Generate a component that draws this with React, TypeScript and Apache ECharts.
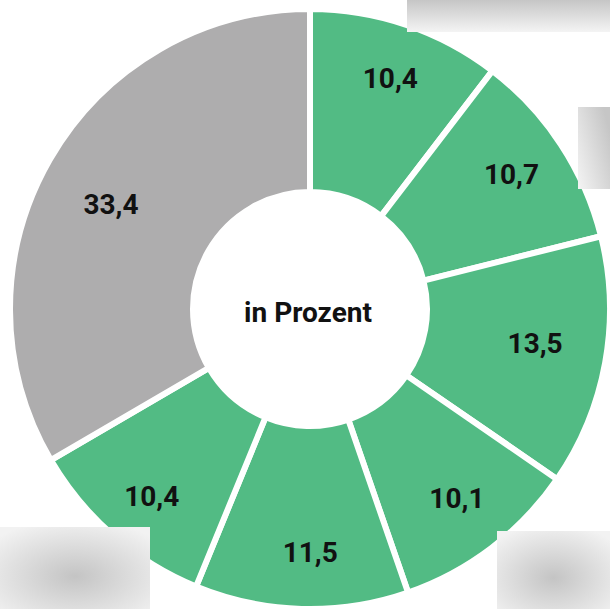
import React, { useEffect, useRef } from "react";
import * as echarts from "echarts";

const categories = ["A", "B", "C", "D", "E", "F", "G"];
const values = [10.4, 10.7, 13.5, 10.1, 11.5, 10.4, 33.4];
const colors = ["#52BB84", "#52BB84", "#52BB84", "#52BB84", "#52BB84", "#52BB84", "#AEADAE"];
const centerText = "in Prozent";

// small per-label nudges (style only)
const labelNudges: [number, number][] = [
  [3, -2],
  [0, -2],
  [-12, -8],
  [1, -2],
  [7, 3],
  [0, 6],
  [10, 16],
];

export default function App() {
  const ref = useRef<HTMLDivElement>(null);
  useEffect(() => {
    if (!ref.current) return;
    const chart = echarts.init(ref.current, undefined, { renderer: "svg" });
    const data = categories.map((c, i) => ({
      name: c,
      value: values[i],
      itemStyle: { color: colors[i] },
    }));
    const fmt = (p: any) => String(p.value).replace(".", ",");
    const grayFade = (dir: [number, number, number, number]) => ({
      type: "linear",
      x: dir[0],
      y: dir[1],
      x2: dir[2],
      y2: dir[3],
      colorStops: [
        { offset: 0, color: "#c6c6c6" },
        { offset: 1, color: "#f4f4f4" },
      ],
    });
    const radialGray = {
      type: "radial",
      x: 0.5,
      y: 0.6,
      r: 0.7,
      colorStops: [
        { offset: 0, color: "#c4c4c4" },
        { offset: 1, color: "#f2f2f2" },
      ],
    };
    chart.setOption({
      animation: false,
      backgroundColor: "#ffffff",
      series: [
        {
          type: "pie",
          center: [310, 309],
          radius: [117, 300],
          startAngle: 90,
          clockwise: true,
          silent: true,
          itemStyle: { borderColor: "#ffffff", borderWidth: 6 },
          label: { show: false },
          labelLine: { show: false },
          data,
        },
        {
          type: "pie",
          center: [310, 309],
          radius: [176, 300],
          startAngle: 90,
          clockwise: true,
          silent: true,
          itemStyle: { color: "transparent", borderWidth: 0 },
          label: {
            show: true,
            position: "inside",
            formatter: fmt,
            color: "#111111",
            fontFamily: "Roboto",
            fontWeight: "bold",
            fontSize: 28,
          },
          labelLine: { show: false },
          data: categories.map((c, i) => ({
            name: c,
            value: values[i],
            label: { offset: labelNudges[i] },
          })),
        },
      ],
      graphic: [
        {
          type: "text",
          x: 308,
          y: 312,
          style: {
            text: centerText,
            textAlign: "center",
            textVerticalAlign: "middle",
            fill: "#111111",
            font: "bold 28px Roboto",
          },
        },
        {
          type: "rect",
          shape: { x: 407, y: 0, width: 203, height: 32 },
          style: { fill: grayFade([0, 0, 0, 1]) },
          z: 10,
        },
        {
          type: "rect",
          shape: { x: 578, y: 107, width: 32, height: 82 },
          style: { fill: grayFade([1, 0.3, 0, 1]) },
          z: 10,
        },
        {
          type: "rect",
          shape: { x: 0, y: 527, width: 150, height: 82 },
          style: { fill: radialGray },
          z: 10,
        },
        {
          type: "rect",
          shape: { x: 497, y: 531, width: 113, height: 78 },
          style: { fill: radialGray },
          z: 10,
        },
      ],
    });
    return () => chart.dispose();
  }, []);
  return (
    <div
      ref={ref}
      style={{ position: "fixed", left: 0, top: 0, width: 610, height: 609 }}
    />
  );
}
